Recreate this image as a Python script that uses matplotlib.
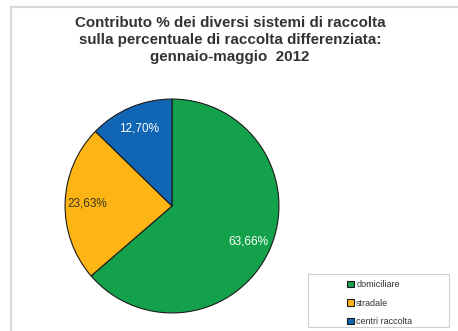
import matplotlib
matplotlib.use("Agg")
import matplotlib.pyplot as plt
from matplotlib.patches import Rectangle
from matplotlib.lines import Line2D

plt.rcParams["font.family"] = ["Liberation Sans", "DejaVu Sans"]

# data (percentuali)
categories = ["domiciliare", "stradale", "centri raccolta"]
values = [63.66, 23.63, 12.70]
colors = ["#13a24b", "#fdb515", "#1165b5"]
label_colors = ["white", "#3a3420", "white"]

W, H = 458, 331
fig = plt.figure(figsize=(W / 100, H / 100), dpi=100)


def fx(px):
    return px / W


def fy(py):
    return 1 - py / H


# frame of the chart area
fig.add_artist(Line2D([fx(11), fx(11)], [fy(7), 0], color="#d9d9d9", lw=1.5))
fig.add_artist(Line2D([fx(11), 1], [fy(7), fy(7)], color="#d9d9d9", lw=1.5))

fig.text(fx(230), fy(40),
         "Contributo % dei diversi sistemi di raccolta\n"
         "sulla percentuale di raccolta differenziata:\n"
         "gennaio-maggio  2012",
         ha="center", va="center", fontsize=10.9, fontweight="bold",
         color="#333333", linespacing=1.3)

# pie: center ~(172,206), radius ~108 px
cx, cy, r = 172, 206, 108
ax = fig.add_axes([fx(cx - r), fy(cy + r), 2 * r / W, 2 * r / H])
fracs = [v / 100 for v in values]
wedges, texts, autotexts = ax.pie(
    fracs, colors=colors, startangle=90, counterclock=False,
    normalize=False, pctdistance=0.79,
    autopct=lambda p: ("%.2f%%" % p).replace(".", ","),
    wedgeprops=dict(edgecolor="#1a1a1a", linewidth=0.8),
    textprops=dict(fontsize=8.5))
for t, c in zip(autotexts, label_colors):
    t.set_color(c)
ax.set_xlim(-1.01, 1.01)
ax.set_ylim(-1.01, 1.01)
ax.set_aspect("equal")
ax.axis("off")

# legend box
fig.add_artist(Rectangle((fx(308), fy(327)), fx(449) - fx(308), fy(274) - fy(327),
                         facecolor="white", edgecolor="#cfcfcf", lw=0.8))
fig.legend(wedges, categories, loc="upper left",
           bbox_to_anchor=(fx(340), fy(273)), frameon=False,
           fontsize=6.5, handlelength=0.7, handleheight=0.7,
           handletextpad=0.3, labelspacing=1.05, labelcolor="#333333",
           borderpad=0.3)

fig.savefig("out.png", dpi=100)
